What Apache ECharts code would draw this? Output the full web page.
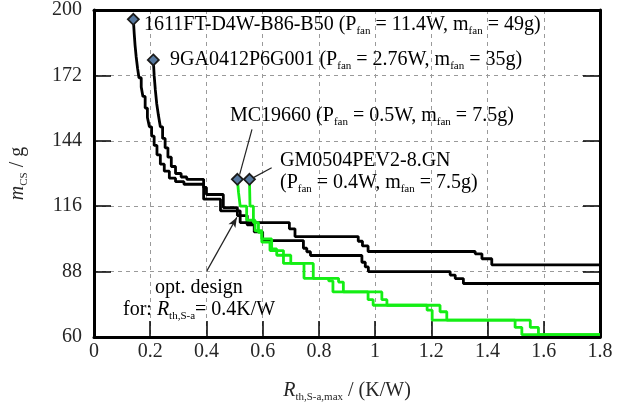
<!DOCTYPE html>
<html>
<head>
<meta charset="utf-8">
<script src="https://cdn.jsdelivr.net/npm/echarts@6/dist/echarts.min.js"></script>
<style>
  html, body { margin: 0; padding: 0; background: #fff; }
  #chart { width: 621px; height: 409px; }
</style>
</head>
<body>
<div id="chart"></div>
<script>
// Axis ticks
const xTicks = [0, 0.2, 0.4, 0.6, 0.8, 1, 1.2, 1.4, 1.6, 1.8];
const yTicks = [60, 88, 116, 144, 172, 200];

// 1611FT-D4W-B86-B50: max. thermal resistance (K/W) vs. cooling-system mass (g)
const r1611 = [0.140,0.143,0.146,0.150,0.155,0.160,0.168,0.174,0.182,0.190,0.197,0.205,0.214,0.224,0.236,0.250,0.268,0.290,0.320,0.390,0.450,0.520,0.695,0.715,0.940,0.955,0.975,1.356,1.380,1.415,1.800];
const m1611 = [196,190,185,180,175,171,167,163,158,154,150,146,142,138,134,131,128,126.5,125.4,119,114,109,106.3,103,101,99,96.6,95.6,93.5,90.9,90.9];

// 9GA0412P6G001
const r9GA = [0.211,0.214,0.218,0.223,0.229,0.236,0.244,0.253,0.263,0.275,0.290,0.310,0.330,0.390,0.400,0.460,0.510,0.545,0.570,0.600,0.745,0.757,0.770,0.953,0.965,0.976,1.267,1.285,1.314,1.800];
const m9GA = [178.6,172,166,160,155,150,145,141,137,133,130,128.5,127.5,124,121,115.4,112,108,105,101.3,98,96.5,94.9,92,90,88,86.5,85,82.9,82.9];

// MC19660
const rMC = [0.510,0.514,0.520,0.543,0.573,0.597,0.626,0.674,0.747,0.835,0.850,0.975,0.993,1.185,1.203,1.498,1.522,1.800];
const mMC = [127.5,122,116,110,105.5,100.6,97,91.5,85.1,84,79.3,76,73.6,71.5,67.2,64.1,61,61];

// GM0504PEV2-8.GN
const rGM = [0.553,0.555,0.567,0.585,0.597,0.632,0.650,0.700,0.780,0.870,0.887,1.024,1.042,1.231,1.255,1.552,1.581,1.800];
const mGM = [127.5,116,109,104.8,102,97.7,95,91.5,85.1,83.5,79.3,76,73.6,70.8,67.2,64.1,61,61];

const FONT = 'Liberation Serif';
const BLACK = '#000000';
const GREEN = '#14ee14';
const TEXT = '#262626';

function pairs(rs, ms) { return rs.map((r, i) => [r, ms[i]]); }

const subRich = {
  n: { fontFamily: FONT, fontSize: 20, lineHeight: 24, color: TEXT },
  i: { fontFamily: FONT, fontSize: 20, lineHeight: 24, fontStyle: 'italic', color: TEXT },
  s: { fontFamily: FONT, fontSize: 11, lineHeight: 12, verticalAlign: 'bottom', color: TEXT }
};

function stepSeries(name, rs, ms, color) {
  return {
    name, type: 'line', step: 'end', data: pairs(rs, ms),
    showSymbol: false, symbol: 'none',
    lineStyle: { color, width: 2.8 }, z: 3, animation: false
  };
}

function startMarker(rs, ms) {
  return {
    type: 'scatter', data: [[rs[0], ms[0]]], symbol: 'diamond', symbolSize: 11,
    itemStyle: { color: '#56789f', borderColor: '#1b1b1b', borderWidth: 1.8, opacity: 1 },
    z: 6, animation: false
  };
}

const chart = echarts.init(document.getElementById('chart'), null, { renderer: 'canvas' });

const gridLine = { show: true, lineStyle: { color: '#9a9a9a', type: [4, 4], width: 1 } };

chart.setOption({
  backgroundColor: '#ffffff',
  animation: false,
  grid: { left: 94, right: 21, top: 8, bottom: 72, show: false },
  xAxis: [{
    type: 'value', min: xTicks[0], max: xTicks[xTicks.length - 1], interval: 0.2,
    axisLine: { show: true, onZero: false, lineStyle: { color: BLACK, width: 3 } },
    axisTick: { show: true, inside: true, length: 16, lineStyle: { color: BLACK, width: 1.5 } },
    axisLabel: { fontFamily: FONT, fontSize: 20, color: TEXT, margin: 5 },
    splitLine: gridLine,
    name: '{i|R}{s|th,S-a,max}{n| / (K/W)}',
    nameLocation: 'middle', nameGap: 42,
    nameTextStyle: { rich: subRich }
  }, {
    type: 'value', position: 'top', min: xTicks[0], max: xTicks[xTicks.length - 1], interval: 0.2,
    axisLine: { show: true, onZero: false, lineStyle: { color: BLACK, width: 3 } },
    axisTick: { show: false }, axisLabel: { show: false }, splitLine: { show: false }
  }],
  yAxis: [{
    type: 'value', min: yTicks[0], max: yTicks[yTicks.length - 1], interval: 28,
    axisLine: { show: true, onZero: false, lineStyle: { color: BLACK, width: 3 } },
    axisTick: { show: true, inside: true, length: 17, lineStyle: { color: BLACK, width: 1.5 } },
    axisLabel: { fontFamily: FONT, fontSize: 20, color: TEXT, margin: 12 },
    splitLine: gridLine,
    name: '{i|m}{s|CS}{n| / g}',
    nameLocation: 'middle', nameGap: 64, nameRotate: 90,
    nameTextStyle: { rich: subRich }
  }, {
    type: 'value', position: 'right', min: yTicks[0], max: yTicks[yTicks.length - 1], interval: 28,
    axisLine: { show: true, onZero: false, lineStyle: { color: BLACK, width: 3 } },
    axisTick: { show: true, inside: true, length: 17, lineStyle: { color: BLACK, width: 1.5 } },
    axisLabel: { show: false }, splitLine: { show: false }
  }],
  series: [
    stepSeries('1611FT-D4W-B86-B50', r1611, m1611, BLACK),
    stepSeries('9GA0412P6G001', r9GA, m9GA, BLACK),
    stepSeries('MC19660', rMC, mMC, GREEN),
    Object.assign(stepSeries('GM0504PEV2-8.GN', rGM, mGM, GREEN), {
      markLine: {
        silent: true, animation: false, symbol: ['none', 'none'],
        label: { show: false },
        lineStyle: { color: '#222', width: 1.2, type: 'solid' },
        data: [
          [{ coord: [0.562, 148.9] }, { coord: [0.518, 129.5] }],
          [{ coord: [0.632, 132.5] }, { coord: [0.557, 127.6] }],
          [{ coord: [0.401, 88.2] }, { coord: [0.508, 111.2], symbol: 'arrow', symbolSize: [6, 10] }]
        ]
      }
    }),
    startMarker(r1611, m1611),
    startMarker(r9GA, m9GA),
    startMarker(rMC, mMC),
    startMarker(rGM, mGM)
  ],
  graphic: [
    { type: 'text', z: 10, style: { x: 144, y: 25, verticalAlign: 'middle', text: '{n|1611FT-D4W-B86-B50 (P}{s|fan}{n| = 11.4W, m}{s|fan}{n| = 49g)}', rich: subRich } },
    { type: 'text', z: 10, style: { x: 170, y: 60, verticalAlign: 'middle', text: '{n|9GA0412P6G001 (P}{s|fan}{n| = 2.76W, m}{s|fan}{n| = 35g)}', rich: subRich } },
    { type: 'text', z: 10, style: { x: 230, y: 116, verticalAlign: 'middle', text: '{n|MC19660 (P}{s|fan}{n| = 0.5W, m}{s|fan}{n| = 7.5g)}', rich: subRich } },
    { type: 'text', z: 10, style: { x: 280, y: 161, verticalAlign: 'middle', text: '{n|GM0504PEV2-8.GN}', rich: subRich } },
    { type: 'text', z: 10, style: { x: 280, y: 183, verticalAlign: 'middle', text: '{n|(P}{s|fan}{n| = 0.4W, m}{s|fan}{n| = 7.5g)}', rich: subRich } },
    { type: 'text', z: 10, style: { x: 155, y: 288, verticalAlign: 'middle', text: '{n|opt. design}', rich: subRich } },
    { type: 'text', z: 10, style: { x: 123, y: 310, verticalAlign: 'middle', text: '{n|for: }{i|R}{s|th,S-a}{n|= 0.4K/W}', rich: subRich } }
  ]
});
</script>
</body>
</html>
